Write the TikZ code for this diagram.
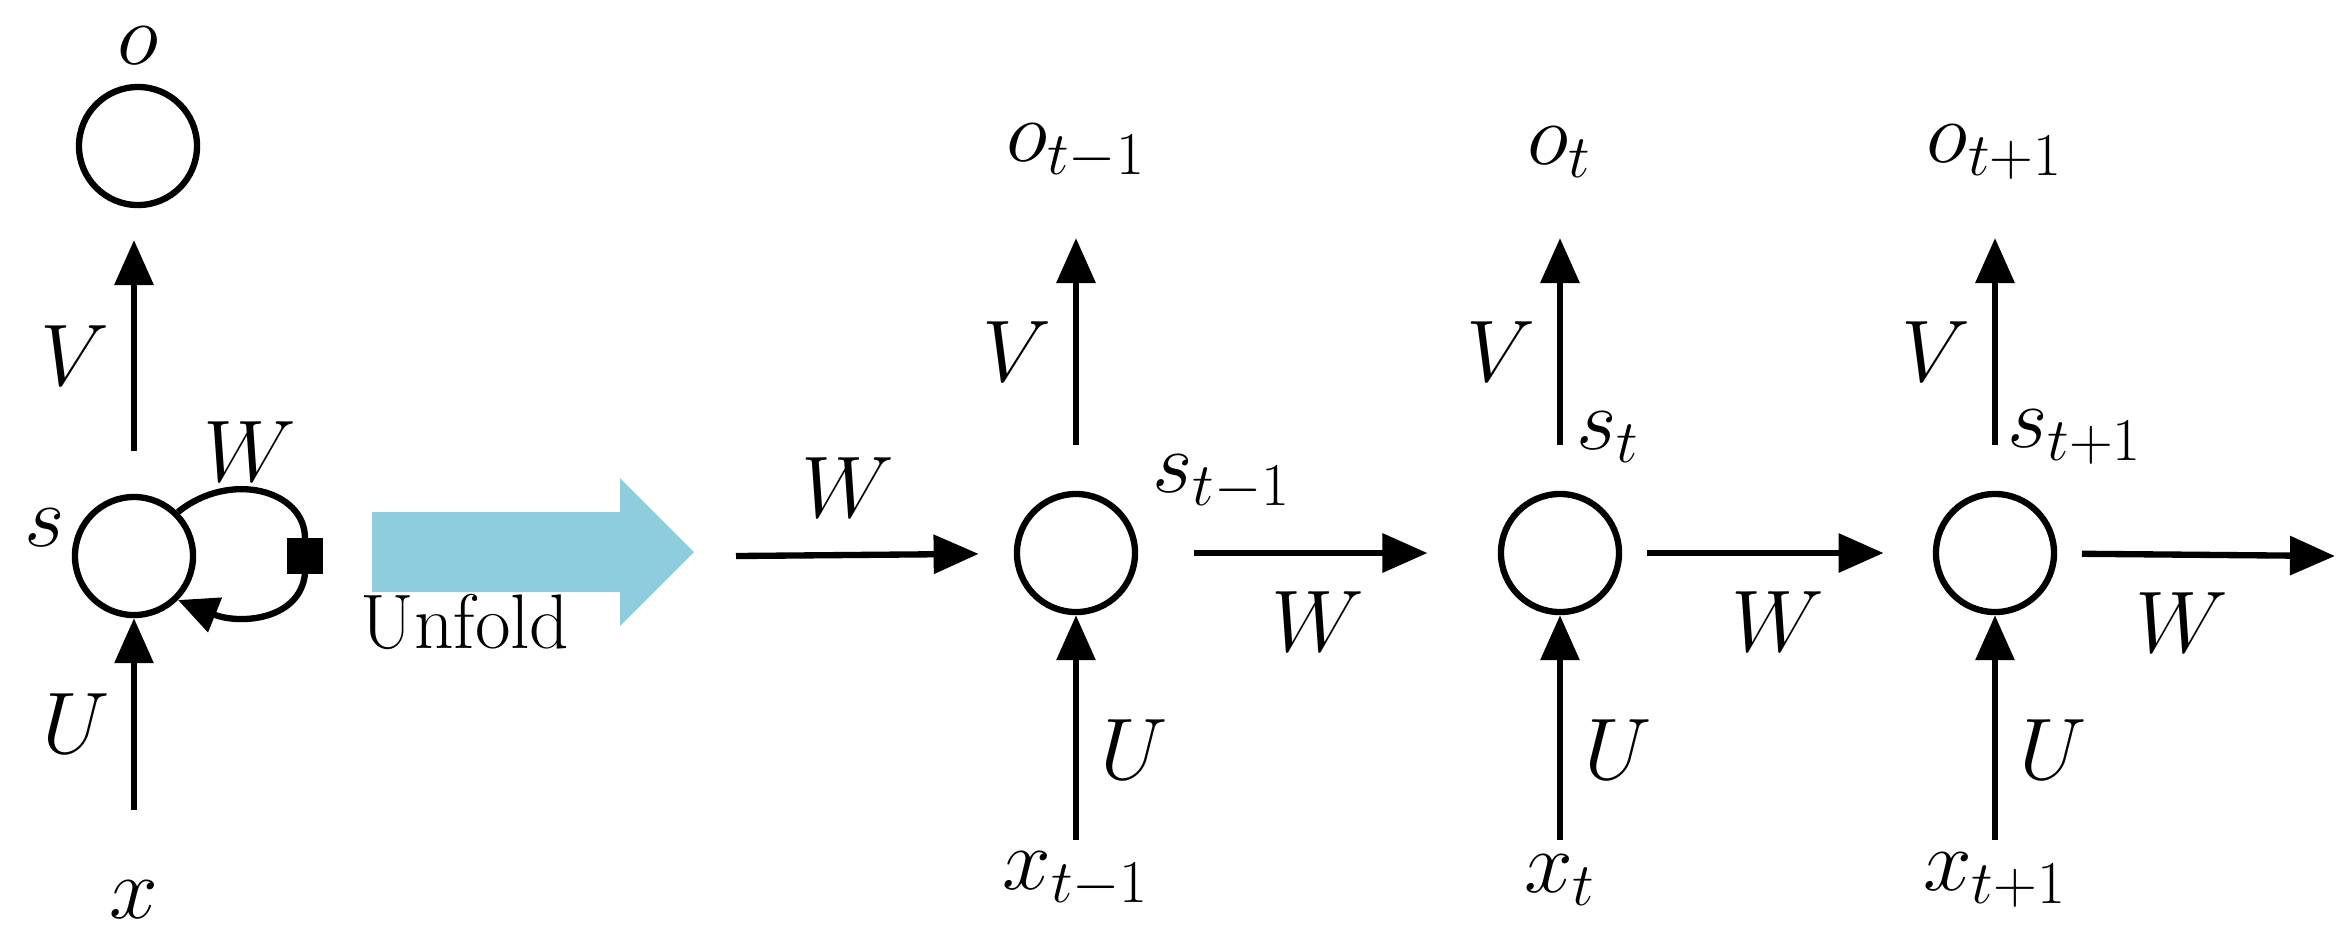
\documentclass[tikz,border=0pt]{standalone}
\usetikzlibrary{arrows.meta}
\begin{document}
\begin{tikzpicture}[x=0.01cm,y=-0.01cm,
  every node/.style={font=\fontsize{25}{30}\selectfont},
  cell/.style={circle,draw,line width=1.8pt,minimum size=1.18cm,inner sep=0},
  lbl/.style={inner sep=0},
  arr/.style={line width=1.8pt,-{Triangle[length=0.45cm,width=0.38cm]}}]
\useasboundingbox (0,0) rectangle (2344,950);
% left folded
\node[cell] (o) at (138,146) {};
\node[lbl] (ol) at (138,46) {$o$};
\node[cell] (s) at (134,556) {};
\node[lbl] (sl) at (45,528) {$s$};
\coordinate (x) at (134,810);
\node[lbl] (xl) at (134,900) {$x$};
\draw[arr] (134,451) -- (134,240) node[lbl,pos=0.45,left=6pt] {$V$};
\draw[arr] (x) -- (s) node[lbl,pos=0.45,left=6pt] {$U$};
\node[lbl] (wl) at (250,452) {$W$};
\node[draw,fill=black,minimum size=0.34cm,inner sep=0] (sq) at (305,556) {};
\draw[line width=1.8pt] (s.45) .. controls (230,470) and (305,490) .. (sq.north);
\draw[line width=1.8pt,-{Triangle[length=0.4cm,width=0.36cm]}] (sq.south) .. controls (300,620) and (240,625) .. (s.-45);
% unfold arrow
\fill[fill={rgb,255:red,142;green,205;blue,222}] (372,512) -- (620,512) -- (620,478) -- (694,552) -- (620,626) -- (620,592) -- (372,592) -- cycle;
\node[lbl,font=\fontsize{22}{26}\selectfont\rmfamily] (unf) at (465,622) {Unfold};
% unrolled
\coordinate (win) at (736,556);
\node[lbl] (wi) at (848,488) {$W$};
\foreach \n/\xc/\sub/\sx/\sy in {a/1076/t-1/1222/483, b/1560/t/1608/437, c/1995/t+1/2075/437}{
  \node[cell] (\n) at (\xc,553) {};
  \node[lbl] (\n o) at (\xc,152) {$o_{\sub}$};
  \node[lbl] (\n s) at (\sx,\sy) {$s_{\sub}$};
  \node[lbl] (\n x) at (\xc,880) {$x_{\sub}$};
  \draw[arr] (\xc,445) -- (\xc,238) node[lbl,pos=0.45,left=6pt] {$V$};
  \draw[arr] (\xc,840) -- (\n) node[lbl,pos=0.4,right=6pt] {$U$};
}
\draw[arr,shorten >=10pt] (win) -- (a);
\coordinate (out) at (2335,556);
\draw[arr,shorten <=16pt,shorten >=20pt] (a) -- (b) node[lbl,midway,below=10pt] {$W$};
\draw[arr,shorten <=7pt,shorten >=14pt] (b) -- (c) node[lbl,midway,below=10pt] {$W$};
\draw[arr,shorten <=7pt] (c) -- (out) node[lbl,pos=0.45,below=10pt] {$W$};
\end{tikzpicture}
\end{document}
